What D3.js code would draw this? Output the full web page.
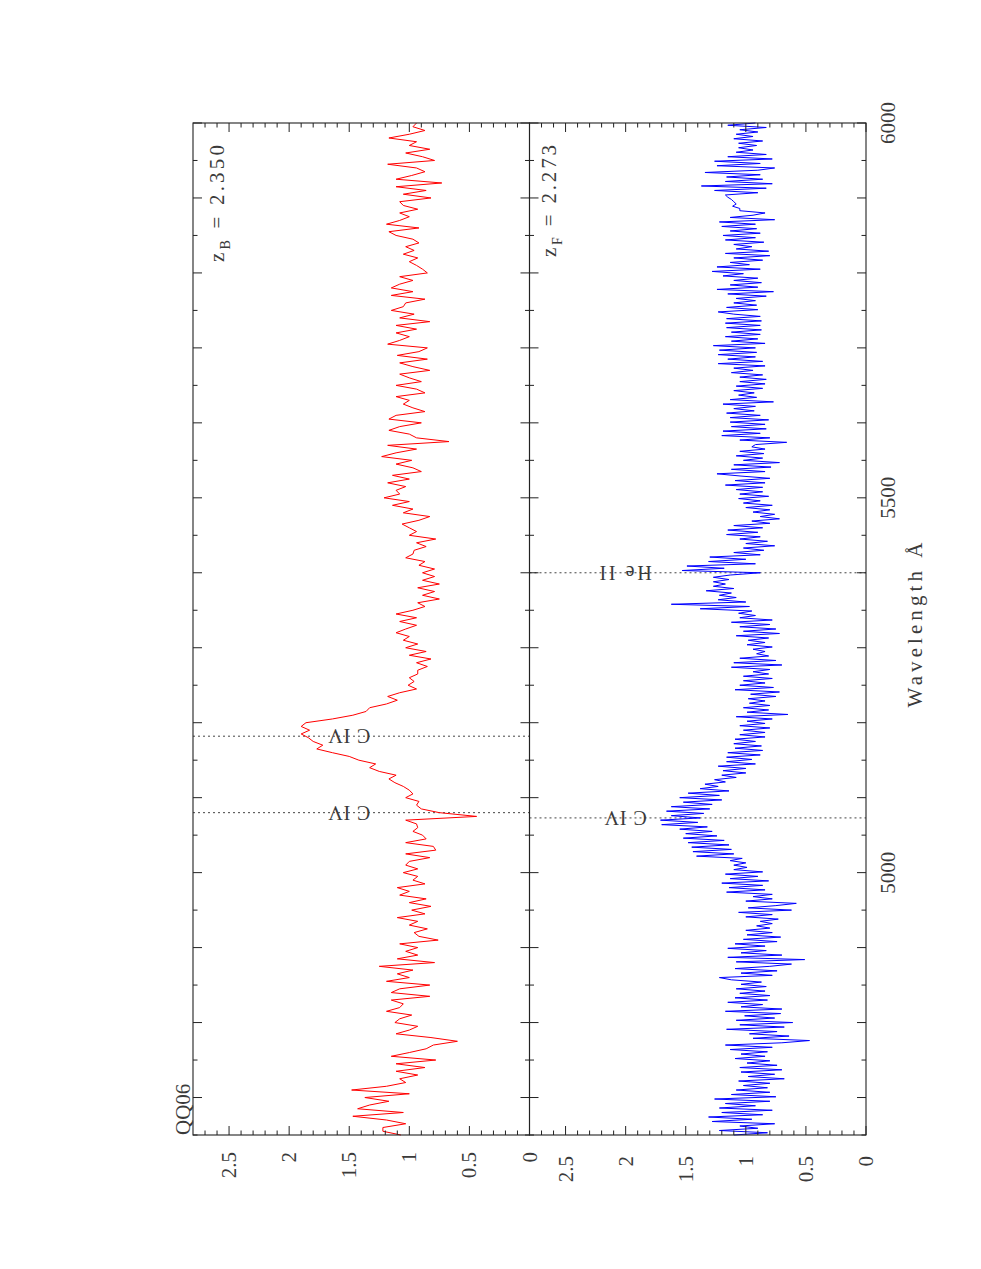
<!DOCTYPE html>
<html><head><meta charset="utf-8">
<script src="https://cdn.jsdelivr.net/npm/d3@7"></script>
<style>body{margin:0;background:#fff}svg{display:block}</style>
</head><body>
<svg id="c" width="981" height="1269"></svg>
<script>
// ---- data ----
const lamStart = 4650, lamEnd = 6000;
const redStep = 5;   // Angstrom per sample, red (background QSO) spectrum
const blueStep = 3;  // Angstrom per sample, blue (foreground QSO) spectrum
const redFlux = [
1.07,1.22,1.22,1.03,1.19,1.47,1.05,1.43,1.33,1.17,
1.37,1.00,1.48,1.19,1.03,1.08,0.93,1.11,0.87,1.11,
0.78,1.15,1.00,0.86,0.80,0.60,0.82,1.11,1.00,0.93,
1.12,1.08,0.98,1.19,1.08,1.05,1.15,0.83,1.15,1.08,
0.83,1.19,1.00,1.10,0.97,1.25,0.79,1.10,0.93,1.03,
0.93,1.08,0.76,0.92,0.96,0.85,1.00,0.93,1.10,0.87,
0.98,0.82,1.00,0.86,1.08,1.00,1.10,0.87,0.97,0.93,
1.05,0.93,1.03,1.00,0.83,1.03,0.78,0.80,1.03,0.86,
0.89,0.97,0.93,0.94,1.03,0.44,0.75,0.90,0.94,0.92,
1.03,0.97,1.00,1.05,1.12,1.17,1.11,1.25,1.33,1.28,
1.42,1.50,1.64,1.77,1.72,1.80,1.84,1.90,1.83,1.90,
1.86,1.64,1.47,1.36,1.33,1.19,1.10,1.18,1.08,0.94,
1.01,0.96,1.00,0.93,0.93,0.85,0.94,0.82,1.00,0.86,
1.03,0.93,1.05,1.00,1.11,1.03,0.94,1.08,0.94,1.11,
0.97,0.87,0.93,0.75,0.89,0.79,0.93,0.75,0.89,0.79,
0.89,0.79,0.92,0.87,1.03,0.97,0.96,0.86,0.94,0.78,
1.00,0.94,1.00,1.06,0.92,0.83,1.05,0.97,1.14,1.00,
1.21,1.08,1.11,1.03,1.18,1.00,1.14,0.90,0.97,1.11,
0.98,1.23,1.11,0.94,1.18,0.67,0.94,1.00,1.17,1.08,
0.90,1.17,1.11,0.87,0.97,1.05,1.00,1.11,0.87,0.94,
1.11,0.90,1.00,1.08,0.83,0.97,1.08,0.85,1.10,0.92,
0.85,1.18,1.08,1.00,1.11,0.94,1.11,0.83,1.08,0.96,
1.15,1.05,1.03,0.87,1.15,0.97,1.15,1.08,0.97,1.08,
0.85,0.89,0.94,1.00,0.93,1.05,0.96,1.03,0.92,0.97,
1.11,1.17,0.92,1.19,1.08,1.00,1.08,0.93,1.05,1.08,
0.82,1.05,0.86,1.11,0.73,1.11,0.98,0.87,0.94,1.18,
0.79,0.89,1.03,0.83,1.00,0.94,1.17,1.00,0.87,0.97,
0.94];
const blueFlux = [
1.10,0.82,1.22,0.90,1.05,0.76,1.28,0.95,1.31,0.86,
1.20,0.78,1.22,0.92,1.17,0.80,1.26,0.75,1.12,0.80,
1.08,0.82,1.02,0.80,1.06,0.68,0.98,0.76,1.04,0.70,
1.05,0.74,0.99,0.80,1.09,0.84,1.04,0.82,1.13,0.78,
1.17,0.70,0.47,0.94,0.64,0.97,0.74,1.16,0.68,1.05,
0.61,1.08,0.76,1.01,0.71,1.17,0.70,1.04,0.86,1.15,
0.82,1.09,0.80,1.05,0.84,1.08,0.83,1.04,0.87,1.12,
1.22,0.78,1.04,0.74,1.09,0.80,0.62,1.08,0.51,1.15,
0.70,1.04,0.83,1.15,0.84,1.09,0.74,1.02,0.71,0.99,
0.78,1.00,0.80,0.91,0.78,0.88,0.73,1.00,0.78,1.06,
0.62,0.98,0.75,0.58,1.00,0.78,0.94,0.78,1.16,0.84,
1.14,0.86,1.20,0.81,1.13,0.90,1.17,0.86,1.10,0.99,
1.10,1.00,1.13,1.03,1.41,1.10,1.44,1.12,1.45,1.14,
1.48,1.18,1.52,1.24,1.50,1.28,1.55,1.32,1.70,1.40,
1.71,1.38,1.62,1.35,1.66,1.30,1.62,1.28,1.52,1.20,
1.55,1.22,1.48,1.14,1.38,1.23,1.34,1.17,1.26,1.08,
1.20,1.00,1.19,1.00,1.23,0.92,1.16,0.95,1.16,0.88,
1.15,0.86,1.09,0.87,1.10,0.92,1.09,0.84,1.05,0.84,
1.02,0.80,1.05,0.84,0.99,0.78,1.08,0.65,0.99,0.81,
1.02,0.80,0.97,0.84,0.98,0.75,0.96,0.72,1.09,0.77,
1.05,0.84,1.02,0.78,1.02,0.81,0.94,0.80,1.12,0.70,
1.10,0.75,1.05,0.81,0.91,0.84,0.94,0.78,0.99,0.84,
0.98,0.81,1.08,0.72,1.02,0.75,1.05,0.80,1.12,0.78,
1.05,0.92,1.06,0.95,1.38,0.97,1.62,1.00,1.23,1.08,
1.22,1.12,1.33,1.10,1.27,1.17,1.27,1.14,1.27,1.13,
0.88,1.53,1.18,1.49,0.92,1.31,1.00,1.30,0.88,1.10,
0.85,1.02,0.76,1.00,0.82,1.05,0.88,1.16,0.90,1.15,
0.86,1.10,0.80,0.95,0.72,0.88,0.76,0.94,0.80,1.00,
0.78,1.02,0.88,1.06,0.81,1.05,0.86,1.08,0.86,1.17,
0.84,1.09,0.80,1.04,1.24,0.84,1.12,0.79,1.10,0.72,
1.02,0.86,1.08,0.85,1.05,0.84,0.95,0.92,0.66,1.05,
0.80,1.20,0.88,1.19,0.83,1.12,0.84,1.13,0.81,1.13,
0.88,1.16,0.93,1.10,0.92,1.19,0.77,1.13,0.91,1.06,
0.93,1.10,0.86,1.08,0.84,1.05,0.83,1.05,0.86,1.12,
0.94,1.10,0.84,1.23,0.86,1.15,0.92,1.23,0.91,1.22,
0.92,1.27,0.84,1.12,0.90,1.17,0.88,1.12,0.87,1.16,
0.88,1.17,0.87,1.16,0.88,1.10,1.23,0.90,1.16,0.91,
1.10,0.92,1.08,0.83,1.15,0.77,1.24,0.90,1.13,0.87,
1.10,0.90,1.19,1.02,1.28,0.88,1.24,0.97,1.13,0.86,
1.10,0.80,1.17,0.81,1.08,0.95,1.10,0.85,1.17,0.92,
1.19,0.88,1.13,0.91,1.20,0.92,1.22,0.76,1.13,0.94,
0.84,1.05,1.05,1.11,1.08,1.10,1.12,1.15,1.17,0.90,
1.26,0.83,1.37,0.78,1.17,0.86,1.16,0.88,1.34,0.90,
0.76,1.24,0.88,1.26,0.78,1.15,0.83,1.08,0.94,1.06,
0.91,1.06,0.86,1.10,0.94,1.08,0.90,1.05,0.83,1.15,
0.92];
const fluxMax = 2.8;
const wlMinorTicks = d3.range(4650, 6001, 50);
const wlLabels = [5000, 5500, 6000];
const fluxMajorTicks = [0, 0.5, 1, 1.5, 2, 2.5];
const fluxMinorTicks = d3.range(0, 28).map(i => i / 10);
const fluxLabels = ["0", "0.5", "1", "1.5", "2", "2.5"];
const panelNames = ["B", "F"];
const panelRedshifts = ["2.350", "2.273"];
const panelColors = ["#ff0000", "#0000ff"];
const lineWavelengths = [[5182, 5080], [5073, 5400]];
const lineNames = [["C IV", "C IV"], ["C IV", "He II"]];
const lineLabelFlux = [1.5, 2.0];

// ---- drawing (landscape plot rotated by -90 degrees) ----
const svg = d3.select('#c');
const W = 1012, PH = 336.5;
const g = svg.append('g').attr('transform', 'translate(193,1135) rotate(-90)');
const x = d3.scaleLinear().domain([lamStart, lamEnd]).range([0, W]);
const FONT = "'Liberation Serif', 'DejaVu Serif', serif";
const axisColor = '#222';
const textColor = '#3a3a3a';

const series = [redFlux, blueFlux];
const steps = [redStep, blueStep];

series.forEach((flux, pi) => {
  const top = pi * PH;
  const y = d3.scaleLinear().domain([0, fluxMax]).range([top + PH, top]);

  // dotted line markers
  lineWavelengths[pi].forEach((lw, li) => {
    g.append('line')
      .attr('x1', x(lw)).attr('x2', x(lw))
      .attr('y1', top).attr('y2', top + PH)
      .attr('stroke', '#444').attr('stroke-width', 1)
      .attr('stroke-dasharray', '2,3');
    const name = lineNames[pi][li];
    g.append('text')
      .attr('transform', `translate(${x(lw)},${y(lineLabelFlux[pi])}) rotate(-90)`)
      .attr('text-anchor', 'middle')
      .attr('dominant-baseline', 'central')
      .attr('font-family', FONT).attr('font-size', 20)
      .attr('fill', textColor)
      .attr('textLength', name === 'He II' ? 52 : 42)
      .attr('lengthAdjust', 'spacing')
      .text(name);
  });

  // spectrum
  const line = d3.line()
    .x((d, i) => x(lamStart + i * steps[pi]))
    .y(d => y(d));
  g.append('path').datum(flux)
    .attr('d', line)
    .attr('fill', 'none')
    .attr('stroke', panelColors[pi])
    .attr('stroke-width', 1)
    .attr('stroke-linejoin', 'round');

  // box
  g.append('rect').attr('x', 0).attr('y', top).attr('width', W).attr('height', PH)
    .attr('fill', 'none').attr('stroke', axisColor).attr('stroke-width', 1.1);

  // wavelength ticks (top and bottom of each panel, inward)
  const wt = g.append('g').attr('stroke', axisColor).attr('stroke-width', 1);
  wlMinorTicks.forEach(t => {
    const major = t % 100 === 0;
    const L = major ? 9 : 4.5;
    wt.append('line').attr('x1', x(t)).attr('x2', x(t)).attr('y1', top).attr('y2', top + L);
    wt.append('line').attr('x1', x(t)).attr('x2', x(t)).attr('y1', top + PH).attr('y2', top + PH - L);
  });
  // flux ticks (left and right, inward)
  fluxMinorTicks.forEach(t => {
    const major = Math.abs(t * 2 - Math.round(t * 2)) < 1e-6;
    const L = major ? 9 : 4.5;
    wt.append('line').attr('x1', 0).attr('x2', L).attr('y1', y(t)).attr('y2', y(t));
    wt.append('line').attr('x1', W).attr('x2', W - L).attr('y1', y(t)).attr('y2', y(t));
  });

  // flux labels
  fluxMajorTicks.forEach((t, i) => {
    g.append('text')
      .attr('x', -17 - (pi === 1 ? 4 : 0)).attr('y', y(t))
      .attr('text-anchor', 'end')
      .attr('dominant-baseline', 'central')
      .attr('font-family', FONT).attr('font-size', 21)
      .attr('fill', textColor)
      .text(fluxLabels[i]);
  });

  // redshift label
  const zt = g.append('text')
    .attr('x', W - 22).attr('y', top + (pi === 0 ? 31 : 26))
    .attr('text-anchor', 'end')
    .attr('font-family', FONT).attr('font-size', 21)
    .attr('fill', textColor)
    .attr('textLength', pi === 0 ? 117 : 112)
    .attr('lengthAdjust', 'spacing');
  zt.append('tspan').text('z');
  zt.append('tspan').attr('font-size', 14).attr('dy', 6).text(panelNames[pi]);
  zt.append('tspan').attr('dy', -6).text(' = ' + panelRedshifts[pi]);
});

// wavelength labels
wlLabels.forEach(t => {
  g.append('text')
    .attr('x', x(t)).attr('y', 2 * PH + 29)
    .attr('text-anchor', 'middle')
    .attr('font-family', FONT).attr('font-size', 21)
    .attr('fill', textColor)
    .text(t);
});

// axis title
g.append('text')
  .attr('x', W / 2 + 4).attr('y', 2 * PH + 56)
  .attr('text-anchor', 'middle')
  .attr('font-family', FONT).attr('font-size', 21)
  .attr('fill', textColor)
  .attr('textLength', 165).attr('lengthAdjust', 'spacing')
  .text('Wavelength Å');

// object name
g.append('text')
  .attr('x', 0).attr('y', -3)
  .attr('text-anchor', 'start')
  .attr('font-family', FONT).attr('font-size', 21)
  .attr('fill', textColor)
  .text('QQ06');
</script>
</body></html>
